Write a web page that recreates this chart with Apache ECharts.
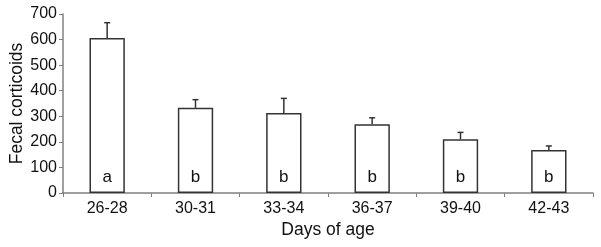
<!DOCTYPE html>
<html>
<head>
<meta charset="utf-8">
<script src="https://cdn.jsdelivr.net/npm/echarts@6/dist/echarts.min.js"></script>
<style>
  html, body { margin: 0; padding: 0; background: #fff; }
  #chart { width: 601px; height: 247px; }
</style>
</head>
<body>
<div id="chart"></div>
<script>
const ageGroups = ['26-28', '30-31', '33-34', '36-37', '39-40', '42-43'];
const meanValues = [606, 333, 313, 269, 210, 168];
const errorTops = [666, 365, 370, 294, 237, 184];
const groupLetters = ['a', 'b', 'b', 'b', 'b', 'b'];

(function () {
  const chart = echarts.init(document.getElementById('chart'));
  const font = 'Liberation Sans, Arial, sans-serif';

  const option = {
    animation: false,
    grid: { left: 62, right: 8, top: 14, bottom: 54 },
    xAxis: {
      type: 'category',
      data: ageGroups,
      name: 'Days of age',
      nameLocation: 'middle',
      nameGap: 28,
      nameMoveOverlap: false,
      nameTextStyle: { fontFamily: font, fontSize: 17.5, color: '#111' },
      axisLine: { lineStyle: { color: '#808080', width: 1.5 } },
      axisTick: { show: true, length: 4, lineStyle: { color: '#808080' } },
      axisLabel: { fontFamily: font, fontSize: 16, color: '#111', margin: 8 }
    },
    yAxis: {
      type: 'value',
      min: 0,
      max: 700,
      interval: 100,
      name: 'Fecal corticoids',
      nameLocation: 'middle',
      nameGap: 37,
      nameMoveOverlap: false,
      nameTextStyle: { fontFamily: font, fontSize: 17.5, color: '#111' },
      axisLine: { show: true, lineStyle: { color: '#808080', width: 1.5 } },
      axisTick: { show: true, length: 4, lineStyle: { color: '#808080' } },
      axisLabel: { fontFamily: font, fontSize: 16, color: '#111', margin: 6 },
      splitLine: { show: false }
    },
    series: [
      {
        type: 'bar',
        barWidth: '40%',
        data: meanValues,
        itemStyle: { color: '#fff', borderColor: '#333', borderWidth: 1.5 },
        label: {
          show: true,
          position: 'insideBottom',
          distance: 7,
          fontFamily: font,
          fontSize: 17,
          color: '#111',
          formatter: p => groupLetters[p.dataIndex]
        }
      },
      {
        type: 'custom',
        data: meanValues.map((v, i) => [i, v, errorTops[i]]),
        renderItem: function (params, api) {
          const base = api.coord([api.value(0), api.value(1)]);
          const top = api.coord([api.value(0), api.value(2)]);
          const cap = 3;
          const style = { stroke: '#333', lineWidth: 1.5 };
          return {
            type: 'group',
            children: [
              { type: 'line', shape: { x1: base[0], y1: base[1], x2: top[0], y2: top[1] }, style: style },
              { type: 'line', shape: { x1: top[0] - cap, y1: top[1], x2: top[0] + cap, y2: top[1] }, style: style }
            ]
          };
        },
        z: 3
      }
    ]
  };

  chart.setOption(option);
})();
</script>
</body>
</html>
